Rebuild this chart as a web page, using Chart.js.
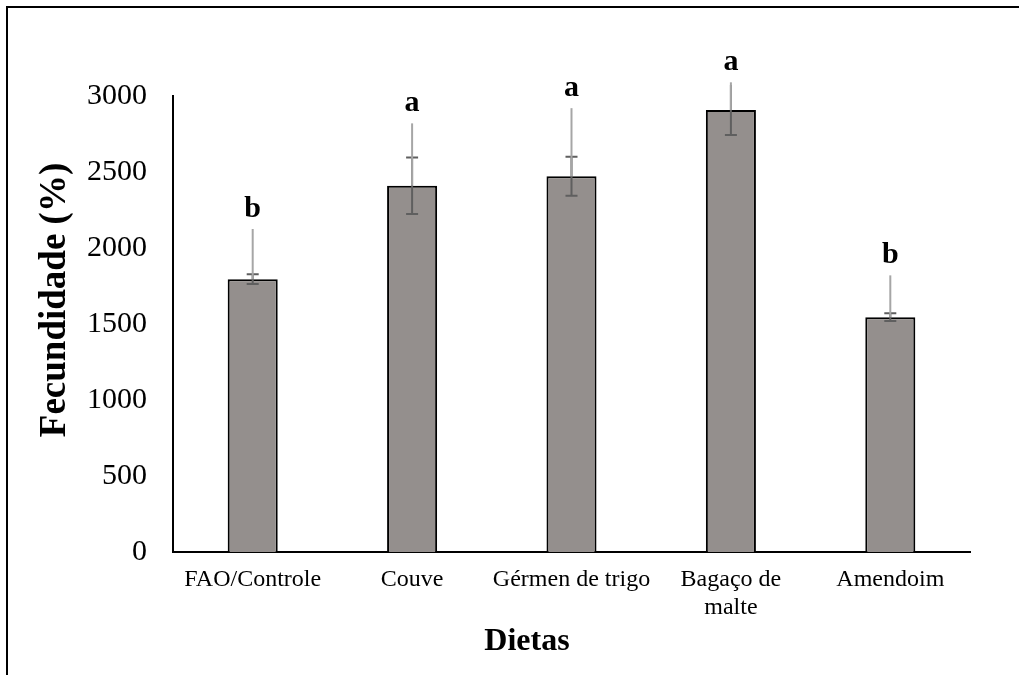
<!DOCTYPE html>
<html>
<head>
<meta charset="utf-8">
<script src="https://cdn.jsdelivr.net/npm/chart.js@4/dist/chart.umd.min.js"></script>
<style>
  html, body { margin: 0; padding: 0; background: #fff; }
  #wrap { width: 1019px; height: 675px; position: relative; }
</style>
</head>
<body>
<div id="wrap"><canvas id="chart"></canvas></div>
<script>
// ─── data ─────────────────────────────────────────────────────────────────────
const dietas   = ['FAO/Controle', 'Couve', 'Gérmen de trigo', ['Bagaço de', 'malte'], 'Amendoim'];
const fecund   = [1795, 2410, 2472, 2908, 1545];
const erro     = [32, 186, 128, 165, 26];
const leaderTo = [2125, 2820, 2920, 3090, 1820];
const letras   = ['b', 'a', 'a', 'a', 'b'];
const yTicks   = [0, 500, 1000, 1500, 2000, 2500, 3000];

const SERIF = '"Liberation Serif", "Times New Roman", serif';

// error bars, leader lines and significance letters
const annot = {
  id: 'annot',
  afterDatasetsDraw(chart) {
    const { ctx, scales: { y } } = chart;
    const meta = chart.getDatasetMeta(0);
    ctx.save();
    meta.data.forEach((bar, i) => {
      const x = bar.x;
      // error bar
      const top = y.getPixelForValue(fecund[i] + erro[i]);
      const bot = y.getPixelForValue(fecund[i] - erro[i]);
      ctx.strokeStyle = '#5f5f5f';
      ctx.lineWidth = 2;
      ctx.beginPath();
      ctx.moveTo(x, top); ctx.lineTo(x, bot);
      ctx.moveTo(x - 6, bot); ctx.lineTo(x + 6, bot);
      // upper cap hidden under the leader line when they nearly meet
      if (leaderTo[i] - fecund[i] - erro[i] > 40) {
        ctx.moveTo(x - 6, top); ctx.lineTo(x + 6, top);
      }
      ctx.stroke();
      // leader line
      ctx.strokeStyle = '#a6a6a6';
      ctx.lineWidth = 2;
      ctx.beginPath();
      ctx.moveTo(x, y.getPixelForValue(leaderTo[i]));
      ctx.lineTo(x, y.getPixelForValue(fecund[i]));
      ctx.stroke();
      // letter
      ctx.fillStyle = '#000';
      ctx.font = 'bold 30px ' + SERIF;
      ctx.textAlign = 'center';
      ctx.textBaseline = 'middle';
      ctx.fillText(letras[i], x, y.getPixelForValue(leaderTo[i]) - 20);
    });
    ctx.restore();
  },
  afterDraw(chart) {
    const { ctx } = chart;
    ctx.save();
    // frame
    ctx.strokeStyle = '#000';
    ctx.lineWidth = 2;
    ctx.beginPath();
    ctx.moveTo(7, 675); ctx.lineTo(7, 7); ctx.lineTo(1019, 7);
    ctx.stroke();
    // axis titles
    ctx.fillStyle = '#000';
    ctx.textAlign = 'center';
    ctx.textBaseline = 'middle';
    ctx.font = 'bold 32px ' + SERIF;
    ctx.fillText('Dietas', 527, 642);
    ctx.font = 'bold 37px ' + SERIF;
    ctx.translate(55, 300);
    ctx.rotate(-Math.PI / 2);
    ctx.fillText('Fecundidade (%)', 0, 0);
    ctx.restore();
  },
};

new Chart(document.getElementById('chart'), {
  type: 'bar',
  data: {
    labels: dietas,
    datasets: [{
      data: fecund,
      backgroundColor: '#948f8d',
      borderColor: '#000',
      borderWidth: 2,
      borderSkipped: 'bottom',
      barPercentage: 0.314,
      categoryPercentage: 1,
    }],
  },
  options: {
    responsive: true, maintainAspectRatio: false, animation: false,
    layout: { padding: { top: 96, right: 49, left: 0, bottom: 0 } },
    plugins: { legend: { display: false }, tooltip: { enabled: false } },
    scales: {
      x: {
        grid: { display: false, drawTicks: false },
        border: { color: '#000', width: 2 },
        ticks: { color: '#000', font: { family: SERIF, size: 24, lineHeight: 1.17 }, padding: 14, maxRotation: 0, autoSkip: false },
        afterFit: s => { s.height = 123; },
      },
      y: {
        min: 0, max: 3000,
        grid: { display: false, drawTicks: false },
        border: { color: '#000', width: 2 },
        afterBuildTicks: s => { s.ticks = yTicks.map(v => ({ value: v })); },
        ticks: { color: '#000', font: { family: SERIF, size: 30 }, padding: 26, callback: v => String(v) },
        afterFit: s => { s.width = 173; },
      },
    },
  },
  plugins: [annot],
});
</script>
</body>
</html>
